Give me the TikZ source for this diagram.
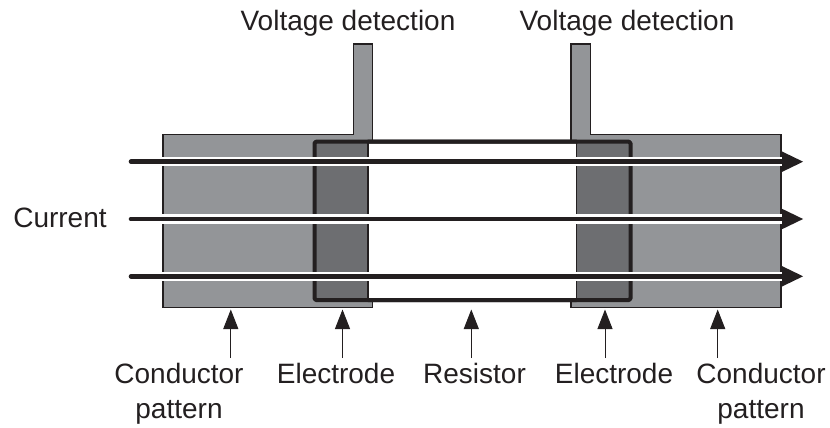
\documentclass[tikz,border=0pt]{standalone}
\usepackage{fontspec}
\setmainfont{Liberation Sans}
\usetikzlibrary{arrows.meta}
\definecolor{pad}{HTML}{939598}
\definecolor{elec}{HTML}{6D6E71}
\definecolor{ink}{HTML}{231F20}
\tikzset{
  padshape/.style={draw=ink,line width=1.1pt,fill=pad,line join=miter},
  elecfill/.style={fill=elec,draw=ink,line width=1.1pt},
  frameline/.style={draw=ink,line width=4pt,line join=round,line cap=round},
  halo/.style={draw=white,line width=9.5pt},
  flow/.style={draw=ink,line width=4.6pt,line cap=round,-{Triangle[length=21.5pt,width=19pt]}},
  pointer/.style={draw=ink,line width=1pt,-{Triangle[length=19.5pt,width=15pt]}},
  lbl/.style={font=\fontsize{28pt}{35pt}\selectfont,text=ink,inner sep=0pt,align=center},
  onelbl/.style={lbl,anchor=base},
}
\begin{document}
\begin{tikzpicture}[x=1pt,y=-1pt]
\useasboundingbox (0,0) rectangle (830,428);
% left and right conductor patterns with voltage tabs
\draw[padshape] (163,134.5) -- (353.5,134.5) -- (353.5,44) -- (372.8,44) -- (372.8,307.7) -- (163,307.7) -- cycle;
\draw[padshape] (571,44) -- (590.8,44) -- (590.8,134.5) -- (781,134.5) -- (781,307.7) -- (571,307.7) -- cycle;
% resistor and electrodes
\fill[white] (368,141.7) rectangle (576.5,300);
\draw[elecfill] (314.5,141.7) rectangle (368,300);
\draw[elecfill] (576.5,141.7) rectangle (630.5,300);
\draw[frameline,rounded corners=1.5pt] (576.5,141.7) -- (314.5,141.7) -- (314.5,300) -- (576.5,300);
\draw[frameline,rounded corners=1.5pt] (368,141.7) -- (630.5,141.7) -- (630.5,300) -- (368,300);
\fill[white] (369,144) rectangle (575.8,297.8);
% current arrows
\coordinate (a1s) at (131,161.7); \coordinate (a1e) at (803.5,161.7);
\coordinate (a2s) at (131,219);   \coordinate (a2e) at (803.5,219);
\coordinate (a3s) at (131,276.3); \coordinate (a3e) at (803.5,276.3);
\coordinate (h1s) at (160,161.7); \coordinate (h1e) at (782,161.7);
\coordinate (h2s) at (160,219);   \coordinate (h2e) at (782,219);
\coordinate (h3s) at (160,276.3); \coordinate (h3e) at (782,276.3);
\draw[halo] (h1s) -- (h1e);
\draw[halo] (h2s) -- (h2e);
\draw[halo] (h3s) -- (h3e);
\draw[flow] (a1s) -- (a1e);
\draw[flow] (a2s) -- (a2e);
\draw[flow] (a3s) -- (a3e);
% labels
\node[onelbl] (v1) at (348,31) {Voltage detection};
\node[onelbl] (v2) at (627,31) {Voltage detection};
\node[onelbl] (cur) at (60,227.5) {Current};
\node[lbl] (c1) at (179,393.5) {Conductor\\pattern};
\node[onelbl] (e1) at (336,383.3) {Electrode};
\node[onelbl] (r) at (474.5,383.3) {Resistor};
\node[onelbl] (e2) at (614,383.3) {Electrode};
\node[lbl] (c2) at (761,393.5) {Conductor\\pattern};
% pointers
\coordinate (t1) at (230.8,309.5); \coordinate (b1) at (230.8,358);
\coordinate (t2) at (342.5,309.5); \coordinate (b2) at (342.5,358);
\coordinate (t3) at (471.3,309.5); \coordinate (b3) at (471.3,358);
\coordinate (t4) at (605,309.5);   \coordinate (b4) at (605,358);
\coordinate (t5) at (717.7,309.5); \coordinate (b5) at (717.7,358);
\draw[pointer] (b1) -- (t1);
\draw[pointer] (b2) -- (t2);
\draw[pointer] (b3) -- (t3);
\draw[pointer] (b4) -- (t4);
\draw[pointer] (b5) -- (t5);
\end{tikzpicture}
\end{document}
